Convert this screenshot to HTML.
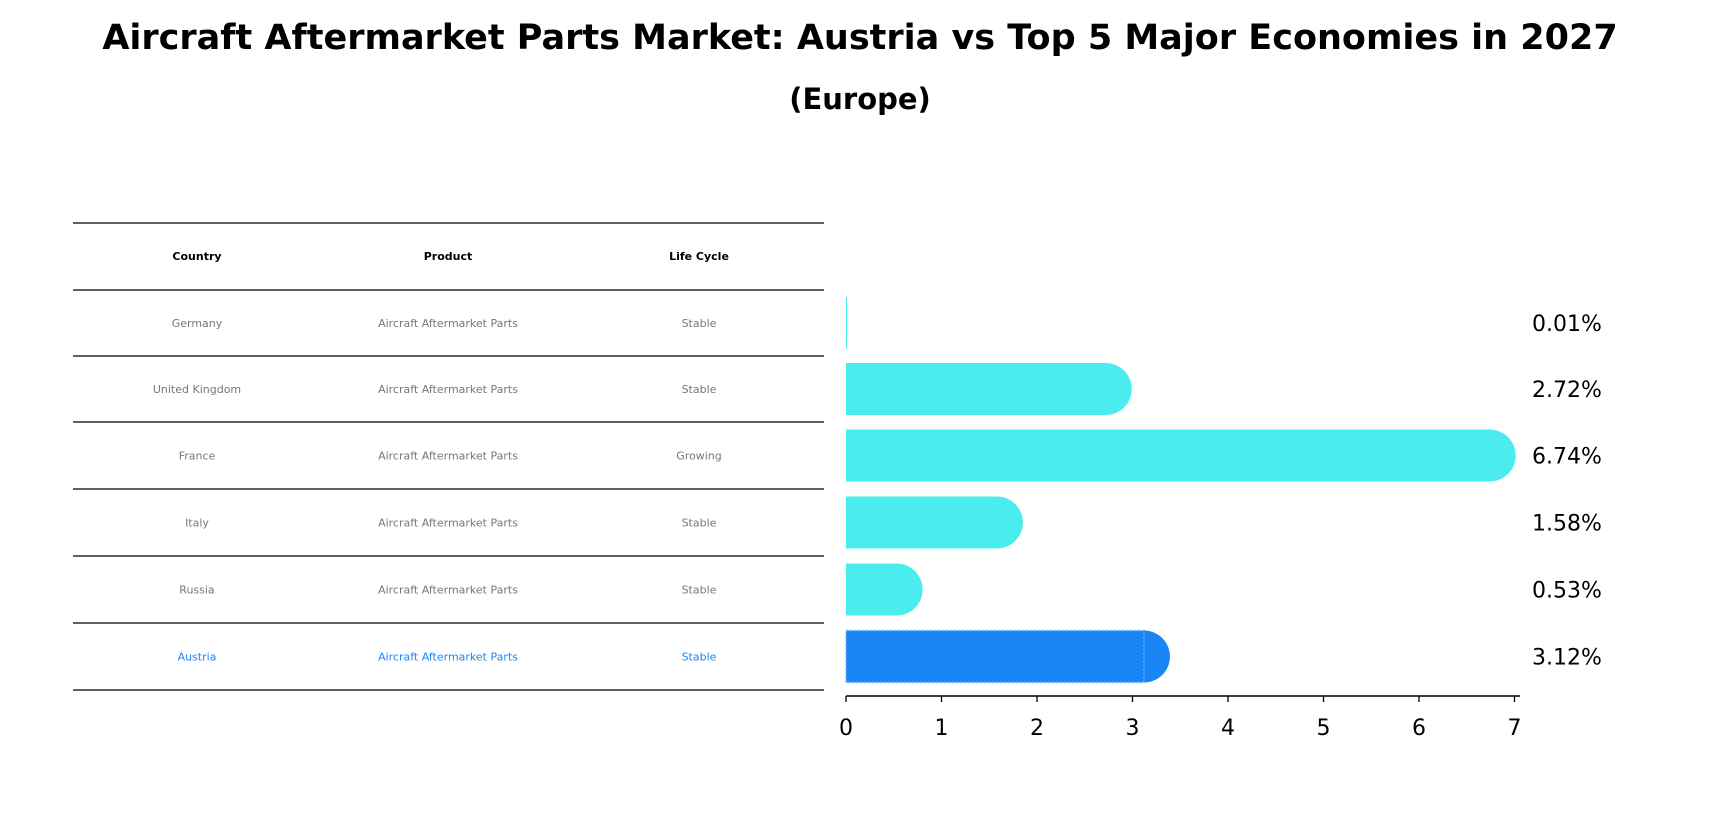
<!DOCTYPE html>
<html><head><meta charset="utf-8"><style>
body{margin:0;background:#fff;width:1720px;height:823px;overflow:hidden}
svg text{font-family:"DejaVu Sans","Liberation Sans",sans-serif}
</style></head><body>
<svg id="c" width="1720" height="823">
<text x="860" y="49" text-anchor="middle" font-size="35" font-weight="bold">Aircraft Aftermarket Parts Market: Austria vs Top 5 Major Economies in 2027</text>
<text x="860" y="109" text-anchor="middle" font-size="29" font-weight="bold">(Europe)</text>
<g id="tbl"></g>
<g id="bars"></g>
</svg>
<script>
const countries=["Germany","United Kingdom","France","Italy","Russia","Austria"];
const products=["Aircraft Aftermarket Parts","Aircraft Aftermarket Parts","Aircraft Aftermarket Parts","Aircraft Aftermarket Parts","Aircraft Aftermarket Parts","Aircraft Aftermarket Parts"];
const lifeCycles=["Stable","Stable","Growing","Stable","Stable","Stable"];
const values=[0.01,2.72,6.74,1.58,0.53,3.12];
const ticks=[0,1,2,3,4,5,6,7];
const NS="http://www.w3.org/2000/svg";
function mk(p,t,a,txt){const e=document.createElementNS(NS,t);for(const k in a)e.setAttribute(k,a[k]);if(txt!==undefined)e.textContent=txt;p.appendChild(e);return e;}
const tbl=document.getElementById('tbl'),bars=document.getElementById('bars');
const lines=[223,290,356,422,489,556,623,690];
const cols=[197,448,699];
lines.forEach((y,i)=>{const l=mk(tbl,'line',{x1:73,x2:824,y1:y,y2:y,stroke:'#000','stroke-width':1.2});

});
["Country","Product","Life Cycle"].forEach((h,j)=>{const t=mk(tbl,'text',{x:cols[j],y:260,'text-anchor':'middle','font-size':11,'font-weight':'bold'},h);

});
countries.forEach((c,i)=>{const y=(lines[i+1]+lines[i+2])/2+4;const col=i==countries.length-1?'#1a86f5':'#777';
[c,products[i],lifeCycles[i]].forEach((v,j)=>{const t=mk(tbl,'text',{x:cols[j],y:y,'text-anchor':'middle','font-size':11,fill:col},v);

});});
const x0=846,xs=95.5;const X=v=>x0+v*xs;
const h=52;
values.forEach((v,i)=>{const cy=(lines[i+1]+lines[i+2])/2;const last=i==values.length-1;const col=last?'#1a86f5':'#4beced';
const g=mk(bars,'g',{});


mk(g,'rect',{x:X(0),y:cy-h/2,width:Math.max(1,X(v)-X(0)),height:h,fill:col});
if(v>=0.1)mk(g,'circle',{cx:X(v),cy:cy,r:h/2,fill:col});
if(last)mk(g,'rect',{x:X(0),y:cy-h/2,width:X(v)-X(0),height:h,fill:'none',stroke:'#6cb4ff','stroke-dasharray':'2,2','stroke-width':1.5});
const t=mk(bars,'text',{x:1532,y:cy+8,'font-size':22},v.toFixed(2)+'%');

});
const ax=mk(bars,'line',{x1:X(0),x2:1520,y1:696,y2:696,stroke:'#000','stroke-width':1.5});


ticks.forEach(t=>{mk(bars,'line',{x1:X(t),x2:X(t),y1:696,y2:702,stroke:'#000','stroke-width':1.3});
const l=mk(bars,'text',{x:X(t),y:735,'text-anchor':'middle','font-size':22},t);

});
</script>
</body></html>
